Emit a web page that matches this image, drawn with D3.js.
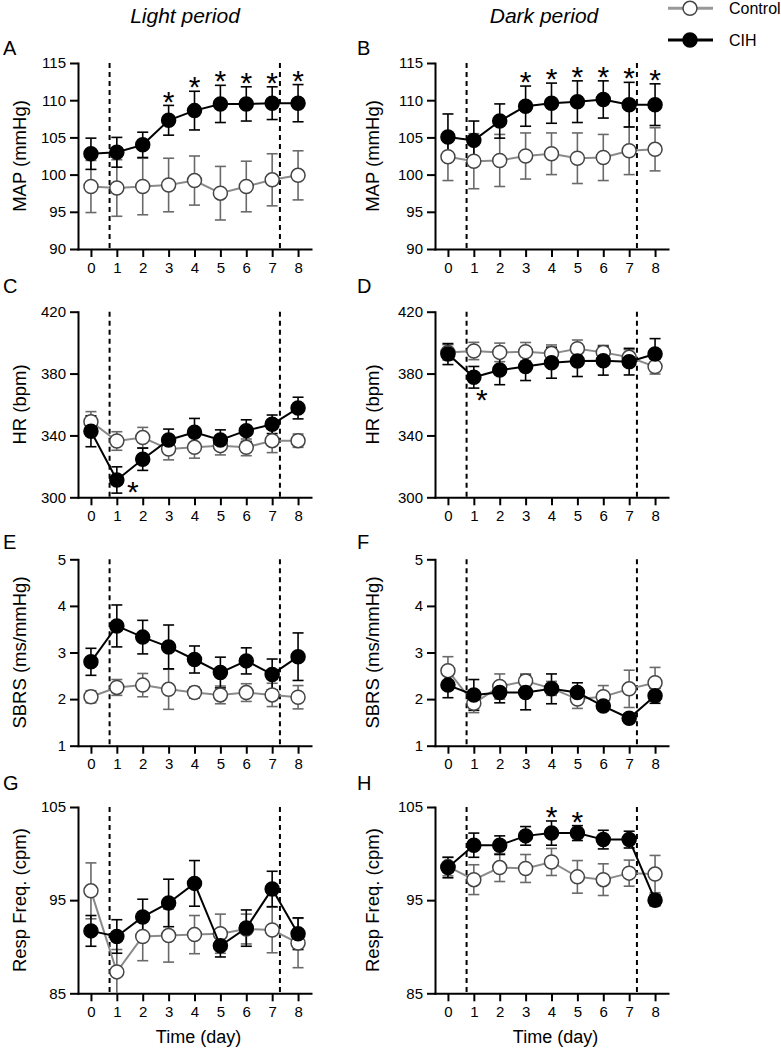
<!DOCTYPE html>
<html><head><meta charset="utf-8">
<script src="https://cdn.jsdelivr.net/npm/d3@7"></script>
<style>body{margin:0;background:#fff} svg{display:block} text{font-family:"Liberation Sans",Arial,sans-serif;fill:#000}</style>
</head><body><svg id="c" width="781" height="1050"></svg>
<script>
const days=[0,1,2,3,4,5,6,7,8];
const groups=["Control","CIH"];
// A: MAP light
const mapLightControl=[98.4,98.2,98.4,98.6,99.2,97.5,98.4,99.3,99.9];
const mapLightControlSem=[3.5,3.8,3.8,3.6,3.3,3.6,3.4,3.5,3.3];
const mapLightCIH=[102.8,103.0,104.0,107.3,108.6,109.5,109.5,109.6,109.6];
const mapLightCIHSem=[2.1,2.0,1.7,2.0,2.6,2.5,2.3,2.2,2.5];
const mapLightSig=[3,4,5,6,7,8];
// B: MAP dark
const mapDarkControl=[102.4,101.8,101.9,102.5,102.8,102.2,102.3,103.2,103.4];
const mapDarkControlSem=[3.2,3.7,3.5,3.1,2.8,3.4,3.1,3.2,2.9];
const mapDarkCIH=[105.05,104.6,107.2,109.2,109.6,109.8,110.1,109.4,109.4];
const mapDarkCIHSem=[3.1,2.6,2.3,2.7,2.7,2.8,2.5,3.0,2.8];
const mapDarkSig=[3,4,5,6,7,8];
// C: HR light
const hrLightControl=[348.9,336.4,338.6,331.2,332.3,333.4,332.3,336.6,336.6];
const hrLightControlSem=[6.5,6,6.6,7,7,6,5.4,7.7,4.3];
const hrLightCIH=[342.7,311.2,324.6,337.1,342.0,337.1,343.1,347.2,357.7];
const hrLightCIHSem=[10,8.5,7.2,7,9,6.5,7,6,7];
const hrLightSig=[1];
// D: HR dark
const hrDarkControl=[393.7,394.6,393.7,394.1,392.9,396.1,393.7,390.5,384.5];
const hrDarkControlSem=[5,5.6,6,6,5.6,5.6,4.5,5,4.8];
const hrDarkCIH=[392.6,377.6,382.3,384.5,387.0,388.1,388.3,387.7,392.6];
const hrDarkCIHSem=[6.8,7,9.5,9,10,10,9.3,8.6,10];
const hrDarkSig=[1];
// E: SBRS light
const sbrsLightControl=[2.05,2.25,2.30,2.21,2.14,2.09,2.14,2.09,2.04];
const sbrsLightControlSem=[0.13,0.17,0.25,0.43,0.12,0.19,0.19,0.25,0.25];
const sbrsLightCIH=[2.80,3.57,3.33,3.12,2.85,2.57,2.82,2.53,2.91];
const sbrsLightCIHSem=[0.29,0.45,0.36,0.47,0.29,0.33,0.28,0.33,0.51];
// F: SBRS dark
const sbrsDarkControl=[2.61,1.91,2.27,2.39,2.23,2.0,2.05,2.22,2.35];
const sbrsDarkControlSem=[0.30,0.2,0.27,0.15,0.15,0.2,0.24,0.4,0.33];
const sbrsDarkCIH=[2.30,2.09,2.14,2.14,2.22,2.14,1.85,1.59,2.07];
const sbrsDarkCIHSem=[0.27,0.33,0.22,0.37,0.32,0.21,0.05,0.08,0.16];
// G: Resp freq light
const rfLightControl=[96.0,87.3,91.1,91.2,91.3,91.4,91.9,91.8,90.4];
const rfLightControlSem=[3.0,2.4,2.6,2.85,2.05,2.1,1.6,2.45,2.65];
const rfLightCIH=[91.7,91.1,93.2,94.7,96.8,90.1,92.0,96.2,91.4];
const rfLightCIHSem=[1.65,1.8,1.9,2.55,2.45,1.2,1.95,1.9,1.7];
// H: Resp freq dark
const rfDarkControl=[98.6,97.2,98.5,98.4,99.1,97.5,97.2,97.9,97.8];
const rfDarkControlSem=[1.0,1.6,1.5,1.5,1.45,1.75,1.7,1.4,2.0];
const rfDarkCIH=[98.5,100.9,100.9,101.9,102.2,102.2,101.5,101.5,95.0];
const rfDarkCIHSem=[1.1,1.3,1.0,1.0,1.3,0.8,1.0,0.9,0.6];
const rfDarkSig=[4,5];
// axes
const mapTicks=[90,95,100,105,110,115];
const hrTicks=[300,340,380,420];
const sbrsTicks=[1,2,3,4,5];
const rfTicks=[85,95,105];
const dashDays=[0.72,7.3];
const colTitles=["Light period","Dark period"];
const yTitles=["MAP (mmHg)","HR (bpm)","SBRS (ms/mmHg)","Resp Freq. (cpm)"];
const panelLetters=["A","B","C","D","E","F","G","H"];

const svg=d3.select("#c");
const cols=[{x0:78,x1:311,lab:26,letterX:3},{x0:435,x1:668,lab:379,letterX:357}];
const rows=[{y0:63,y1:249,letterY:55},{y0:311.7,y1:497.3,letterY:293},{y0:559.3,y1:745.7,letterY:549},{y0:807,y1:993.3,letterY:790}];

const panels=[
 {r:0,c:0,ticks:mapTicks,ctl:mapLightControl,ctlE:mapLightControlSem,cih:mapLightCIH,cihE:mapLightCIHSem,sig:mapLightSig,sigMode:"above"},
 {r:0,c:1,ticks:mapTicks,ctl:mapDarkControl,ctlE:mapDarkControlSem,cih:mapDarkCIH,cihE:mapDarkCIHSem,sig:mapDarkSig,sigMode:"above"},
 {r:1,c:0,ticks:hrTicks,ctl:hrLightControl,ctlE:hrLightControlSem,cih:hrLightCIH,cihE:hrLightCIHSem,sig:hrLightSig,sigMode:"belowRightFar"},
 {r:1,c:1,ticks:hrTicks,ctl:hrDarkControl,ctlE:hrDarkControlSem,cih:hrDarkCIH,cihE:hrDarkCIHSem,sig:hrDarkSig,sigMode:"belowRight"},
 {r:2,c:0,ticks:sbrsTicks,ctl:sbrsLightControl,ctlE:sbrsLightControlSem,cih:sbrsLightCIH,cihE:sbrsLightCIHSem,sig:[],sigMode:"above"},
 {r:2,c:1,ticks:sbrsTicks,ctl:sbrsDarkControl,ctlE:sbrsDarkControlSem,cih:sbrsDarkCIH,cihE:sbrsDarkCIHSem,sig:[],sigMode:"above"},
 {r:3,c:0,ticks:rfTicks,ctl:rfLightControl,ctlE:rfLightControlSem,cih:rfLightCIH,cihE:rfLightCIHSem,sig:[],sigMode:"above"},
 {r:3,c:1,ticks:rfTicks,ctl:rfDarkControl,ctlE:rfDarkControlSem,cih:rfDarkCIH,cihE:rfDarkCIHSem,sig:rfDarkSig,sigMode:"above"}
];

const ctlLine="#8a8a8a", ctlBar="#6a6a6a", ctlStroke="#454545";
const R=7, cap=5.5, ast=30;

panels.forEach((p,i)=>{
  const col=cols[p.c], row=rows[p.r];
  const x=d3.scaleLinear().domain([-0.5,8.5]).range([col.x0,col.x1]);
  const ext=d3.extent(p.ticks);
  const y=d3.scaleLinear().domain(ext).range([row.y1,row.y0]);
  const g=svg.append("g");
  const yc=v=>y(Math.max(ext[0],Math.min(ext[1],v)));

  // dashed lines
  g.selectAll("line.dash").data(dashDays).join("line")
   .attr("x1",d=>x(d)).attr("x2",d=>x(d)).attr("y1",row.y0).attr("y2",row.y1)
   .attr("stroke","#000").attr("stroke-width",2).attr("stroke-dasharray","5,4");

  // axes
  const ya=g.append("g").attr("transform",`translate(${col.x0},0)`)
    .call(d3.axisLeft(y).tickValues(p.ticks).tickSize(8).tickSizeOuter(0).tickPadding(4).tickFormat(d3.format("d")));
  const xa=g.append("g").attr("transform",`translate(0,${row.y1})`)
    .call(d3.axisBottom(x).tickValues(days).tickSize(8).tickSizeOuter(0).tickPadding(5).tickFormat(d3.format("d")));
  [ya,xa].forEach(a=>{
    a.select(".domain").attr("stroke","#000").attr("stroke-width",2).attr("stroke-linecap","square");
    a.selectAll(".tick line").attr("stroke","#000").attr("stroke-width",2);
    a.selectAll(".tick text").attr("font-size",15).attr("font-family","Liberation Sans, Arial, sans-serif").attr("fill","#000");
  });

  // y title
  g.append("text").attr("transform",`translate(${col.lab},${(row.y0+row.y1)/2}) rotate(-90)`)
   .attr("text-anchor","middle").attr("font-size",18.5).text(yTitles[p.r]);
  // letter
  g.append("text").attr("x",col.letterX).attr("y",row.letterY).attr("font-size",20).text(panelLetters[i]);

  const series=[
    {vals:p.ctl,err:p.ctlE,line:ctlLine,bar:ctlBar,fill:"#fff",stroke:ctlStroke},
    {vals:p.cih,err:p.cihE,line:"#000",bar:"#000",fill:"#000",stroke:"#000"}
  ];
  series.forEach(s=>{
    const pts=days.map((d,k)=>({d,v:s.vals[k],e:s.err[k]}));
    const eb=g.append("g").attr("stroke",s.bar).attr("stroke-width",1.6);
    eb.selectAll("line.v").data(pts).join("line")
      .attr("x1",q=>x(q.d)).attr("x2",q=>x(q.d)).attr("y1",q=>yc(q.v-q.e)).attr("y2",q=>yc(q.v+q.e));
    eb.selectAll("line.t").data(pts).join("line")
      .attr("x1",q=>x(q.d)-cap).attr("x2",q=>x(q.d)+cap).attr("y1",q=>yc(q.v+q.e)).attr("y2",q=>yc(q.v+q.e));
    eb.selectAll("line.b").data(pts.filter(q=>q.v-q.e>=ext[0])).join("line")
      .attr("x1",q=>x(q.d)-cap).attr("x2",q=>x(q.d)+cap).attr("y1",q=>yc(q.v-q.e)).attr("y2",q=>yc(q.v-q.e));
  });
  series.forEach(s=>{
    const pts=days.map((d,k)=>({d,v:s.vals[k]}));
    g.append("path").datum(pts).attr("fill","none").attr("stroke",s.line).attr("stroke-width",2)
     .attr("d",d3.line().x(q=>x(q.d)).y(q=>y(q.v)));
    g.selectAll(null).data(pts).join("circle")
     .attr("cx",q=>x(q.d)).attr("cy",q=>y(q.v)).attr("r",R)
     .attr("fill",s.fill).attr("stroke",s.stroke).attr("stroke-width",1.5);
  });

  // significance
  p.sig.forEach(d=>{
    const k=days.indexOf(d);
    let cx,cy;
    if(p.sigMode==="above"){cx=x(d);cy=y(p.cih[k]+p.cihE[k])-11;}
    else if(p.sigMode==="belowRightFar"){cx=x(d)+16;cy=y(p.cih[k])+5;}
    else {cx=x(d)+8;cy=y(p.cih[k]-p.cihE[k])+5;}
    g.append("text").attr("x",cx).attr("y",cy+ast*0.57).attr("text-anchor","middle")
     .attr("font-size",ast).text("*");
  });

  if(p.r===3){
    g.append("text").attr("x",(col.x0+col.x1)/2+4).attr("y",1043).attr("text-anchor","middle")
     .attr("font-size",18).text("Time (day)");
  }
  if(p.r===0){
    g.append("text").attr("x",p.c===0?185:544).attr("y",23).attr("text-anchor","middle")
     .attr("font-size",21).attr("font-style","italic").text(colTitles[p.c]);
  }
});

// legend
const leg=svg.append("g");
const legY=[8.3,40];
groups.forEach((gname,k)=>{
  const isC=k===0;
  leg.append("line").attr("x1",668).attr("x2",713).attr("y1",legY[k]).attr("y2",legY[k])
    .attr("stroke",isC?"#999":"#000").attr("stroke-width",3);
  leg.append("circle").attr("cx",690).attr("cy",legY[k]).attr("r",7)
    .attr("fill",isC?"#fff":"#000").attr("stroke",isC?ctlStroke:"#000").attr("stroke-width",1.5);
  leg.append("text").attr("x",729).attr("y",legY[k]).attr("dy","0.36em").attr("font-size",16).text(gname);
});
</script></body></html>
